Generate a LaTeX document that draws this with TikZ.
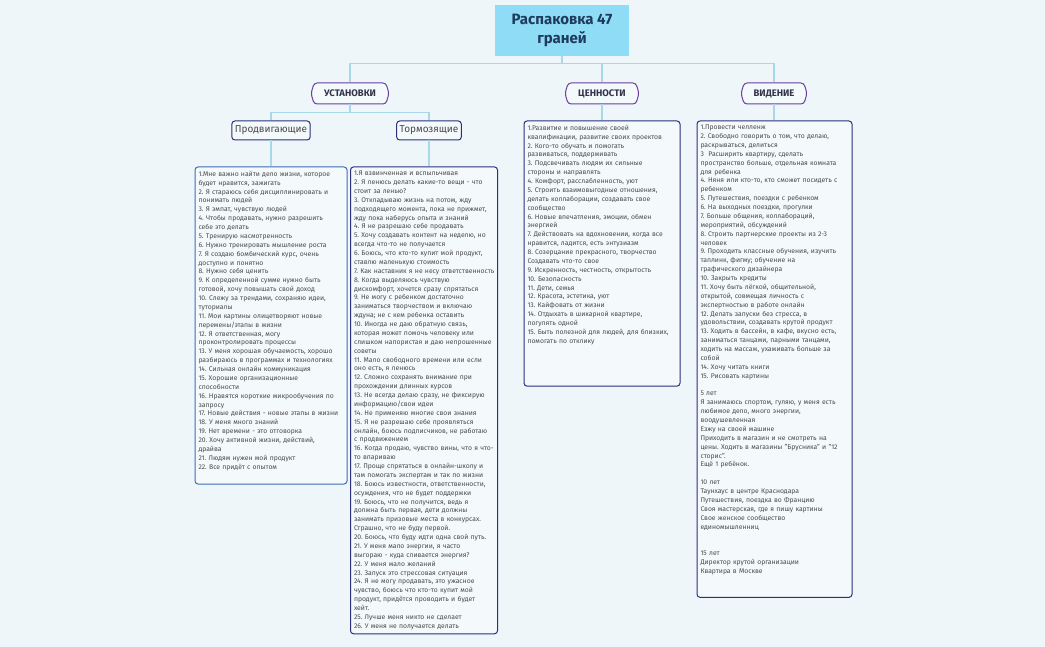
\documentclass[tikz,border=0pt]{standalone}
\usepackage{fontspec}
\setmainfont{Fira Sans}
\usepackage{tikz}
\usetikzlibrary{positioning, shapes.symbols}

\definecolor{bgblue}{HTML}{EEF6FA}
\definecolor{boxfill}{HTML}{F4F9FC}
\definecolor{titlefill}{HTML}{8EDCF6}
\definecolor{titletext}{HTML}{1E3A5C}
\definecolor{linkblue}{HTML}{A9D8EB}
\definecolor{navy}{HTML}{2C2F7C}
\definecolor{purp}{HTML}{6A3D9E}
\definecolor{listblue}{HTML}{3C6CB4}
\definecolor{txtgray}{HTML}{4A4A4A}
\definecolor{topictext}{HTML}{33334A}

\tikzset{
  topic/.style={signal, signal to=east and west, signal pointer angle=147, draw=purp, line width=1pt,
    fill=boxfill, rounded corners=3pt, minimum height=21pt, inner xsep=5pt,
    font=\fontsize{9.5}{11}\selectfont\bfseries, text=topictext},
  subtopic/.style={draw=navy, line width=1pt, rounded corners=3pt, fill=boxfill, minimum height=19pt,
    inner xsep=3pt, font=\fontsize{10}{12}\selectfont, text=txtgray},
  listbox/.style={draw=navy, line width=1pt, rounded corners=3pt, fill=boxfill, align=left,
    inner xsep=3.5pt, inner ysep=4pt, font=\fontsize{6.8}{8.875}\selectfont\frenchspacing, text=txtgray},
  link/.style={linkblue, line width=1.2pt},
}

\begin{document}
\begin{tikzpicture}[x=1pt, y=-1pt, node distance=16pt]

		\fill[bgblue] (0,0) rectangle (1045,647);
		\useasboundingbox (0,0) rectangle (1045,647);

		% Title
		\node[fill=titlefill, minimum width=134pt, minimum height=51pt, align=center,
			font=\fontsize{15}{18.5}\selectfont\bfseries, text=titletext] (title) at (562,30.5)
			{Распаковка 47\\граней};

		% Topics
		\node[topic, minimum width=78pt] (ust) at (350,93.5) {УСТАНОВКИ};
		\node[topic, minimum width=74pt] (cen) at (602,93.5) {ЦЕННОСТИ};
		\node[topic, minimum width=66pt] (vid) at (774,93.5) {ВИДЕНИЕ};

		% Subtopics
		\node[subtopic, below=16pt of ust, xshift=-79pt] (prod) {Продвигающие};
		\node[subtopic, below=16pt of ust, xshift=79pt] (torm) {Тормозящие};

		% Lists
		\node[listbox, draw=listblue, text width=145pt, below=26pt of prod] (prodlist) {
			1.Мне важно найти дело жизни, которое\\
			будет нравится, зажигать\\
			2. Я стараюсь себя дисциплинировать и\\
			понимать людей\\
			3. Я эмпат, чувствую людей\\
			4. Чтобы продавать, нужно разрешить\\
			себе это делать\\
			5. Тренирую насмотренность\\
			6. Нужно тренировать мышление роста\\
			7. Я создаю бомбический курс, очень\\
			доступно и понятно\\
			8. Нужно себя ценить\\
			9. К определенной сумме нужно быть\\
			готовой, хочу повышать свой доход\\
			10. Слежу за трендами, сохраняю идеи,\\
			туториалы\\
			11. Мои картины олицетворяют новые\\
			перемены/этапы в жизни\\
			12.\ Я ответственная, могу\\
			проконтролировать процессы\\
			13. У меня хорошая обучаемость, хорошо\\
			разбираюсь в программах и технологиях\\
			14. Сильная онлайн коммуникация\\
			15. Хорошие организационные\\
			способности\\
			16. Нравятся короткие микрообучения по\\
			запросу\\
			17. Новые действия - новые этапы в жизни\\
			18. У меня много знаний\\
			19. Нет времени - это отговорка\\
			20. Хочу активной жизни, действий,\\
			драйва\\
			21. Людям нужен мой продукт\\
			22. Все придёт с опытом\\[2pt]\mbox{}};

		\node[listbox, text width=140pt, below=26pt of torm, xshift=-5pt] (tormlist) {
			1.Я взвинченная и вспыльчивая\\
			2. Я ленюсь делать какие-то вещи - что\\
			стоит за ленью?\\
			3. Откладываю жизнь на потом, жду\\
			подходящего момента, пока не прижмет,\\
			жду пока наберусь опыта и знаний\\
			4. Я не разрешаю себе продавать\\
			5. Хочу создавать контент на неделю, но\\
			всегда что-то не получается\\
			6. Боюсь, что кто-то купит мой продукт,\\
			ставлю маленькую стоимость\\
			\mbox{7. Как наставник я не несу ответственность}\\
			8. Когда выделяюсь чувствую\\
			дискомфорт, хочется сразу спрятаться\\
			9. Не могу с ребенком достаточно\\
			заниматься творчеством и включаю\\
			ждуна; не с кем ребенка оставить\\
			10. Иногда не даю обратную связь,\\
			которая может помочь человеку или\\
			слишком напористая и даю непрошенные\\
			советы\\
			11. Мало свободного времени или если\\
			оно есть, я ленюсь\\
			12. Сложно сохранять внимание при\\
			прохождении длинных курсов\\
			13. Не всегда делаю сразу, не фиксирую\\
			информацию/свои идеи\\
			14. Не применяю многие свои знания\\
			15. Я не разрешаю себе проявляться\\
			онлайн, боюсь подписчиков, не работаю\\
			с продвижением\\
			16. Когда продаю, чувство вины, что я что-\\
			то впариваю\\
			17. Проще спрятаться в онлайн-школу и\\
			там помогать экспертам и так по жизни\\
			18. Боюсь известности, ответственности,\\
			осуждения, что не будет поддержки\\
			19. Боюсь, что не получится, ведь я\\
			должна быть первая, дети должны\\
			занимать призовые места в конкурсах.\\
			Страшно, что не буду первой.\\
			20. Боюсь, что буду идти одна свой путь.\\
			21. У меня мало энергии, я часто\\
			выгораю - куда сливается энергия?\\
			22. У меня мало желаний\\
			23. Запуск это стрессовая ситуация\\
			24. Я не могу продавать, это ужасное\\
			чувство, боюсь что кто-то купит мой\\
			продукт, придётся проводить и будет\\
			хейт.\\
			25. Лучше меня никто не сделает\\
			26. У меня не получается делать};

		\node[listbox, text width=149pt, below=16pt of cen] (cenlist) {
			1.Развитие и повышение своей\\
			квалификации, развитие своих проектов\\
			2. Кого-то обучать и помогать\\
			развиваться, поддерживать\\
			3. Подсвечивать людям их сильные\\
			стороны и направлять\\
			4. Комфорт, расслабленность, уют\\
			5. Строить взаимовыгодные отношения,\\
			делать коллаборации, создавать свое\\
			сообщество\\
			6. Новые впечатления, эмоции, обмен\\
			энергией\\
			7. Действовать на вдохновении, когда все\\
			нравится, ладится, есть энтузиазм\\
			8. Созерцание прекрасного, творчество\\
			Создавать что-то свое\\
			9. Искренность, честность, открытость\\
			10. Безопасность\\
			11. Дети, семья\\
			12. Красота, эстетика, уют\\
			13. Кайфовать от жизни\\
			14. Отдыхать в шикарной квартире,\\
			погулять одной\\
			15. Быть полезной для людей, для близких,\\
			помогать по отклику\\[30pt]\mbox{}};

		\node[listbox, text width=148pt, below=16pt of vid, xshift=0.5pt] (vidlist) {
			1.Провести челленж\\
			2. Свободно говорить о том, что делаю,\\
			раскрываться, делиться\\
			3\ \ Расширить квартиру, сделать\\
			пространство больше, отдельная комната\\
			для ребенка\\
			4. Няня или кто-то, кто сможет посидеть с\\
			ребенком\\
			5. Путешествия, поездки с ребенком\\
			6. На выходных поездки, прогулки\\
			7. Больше общения, коллабораций,\\
			мероприятий, обсуждений\\
			8. Строить партнерские проекты из 2-3\\
			человек\\
			9. Проходить классные обучения, изучить\\
			таплинк, фигму; обучение на\\
			графического дизайнера\\
			10. Закрыть кредиты\\
			11. Хочу быть лёгкой, общительной,\\
			открытой, совмещая личность с\\
			экспертностью в работе онлайн\\
			12. Делать запуски без стресса, в\\
			удовольствии, создавать крутой продукт\\
			13. Ходить в бассейн, в кафе, вкусно есть,\\
			заниматься танцами, парными танцами,\\
			ходить на массаж, ухаживать больше за\\
			собой\\
			14. Хочу читать книги\\
			15. Рисовать картины\\[8.875pt]
			5 лет\\
			Я занимаюсь спортом, гуляю, у меня есть\\
			любимое дело, много энергии,\\
			воодушевленная\\
			Езжу на своей машине\\
			Приходить в магазин и не смотреть на\\
			цены. Ходить в магазины "Брусника" и "12\\
			сторис".\\
			Ещё 1 ребёнок.\\[8.875pt]
			10 лет\\
			Таунхаус в центре Краснодара\\
			Путешествия, поездка во Францию\\
			Своя мастерская, где я пишу картины\\
			Свое женское сообщество\\
			единомышленниц\\[17.75pt]
			15 лет\\
			Директор крутой организации\\
			Квартира в Москве\\[11pt]\mbox{}};

		% Links
		\draw[link] (title.south) -- ++(0,7) -| (ust.north);
		\draw[link] (title.south) -- ++(0,7) -| (cen.north);
		\draw[link] (title.south) -- ++(0,7) -| (vid.north);
		\draw[link] (ust.south) -- ++(0,8) -| (prod.north);
		\draw[link] (ust.south) -- ++(0,8) -| (torm.north);
		\draw[link] (prod.south) -- (prod.south |- prodlist.north);
		\draw[link] (torm.south) -- (torm.south |- tormlist.north);
		\draw[link] (cen.south) -- (cen.south |- cenlist.north);
		\draw[link] (vid.south) -- (vid.south |- vidlist.north);

\end{tikzpicture}
\end{document}
